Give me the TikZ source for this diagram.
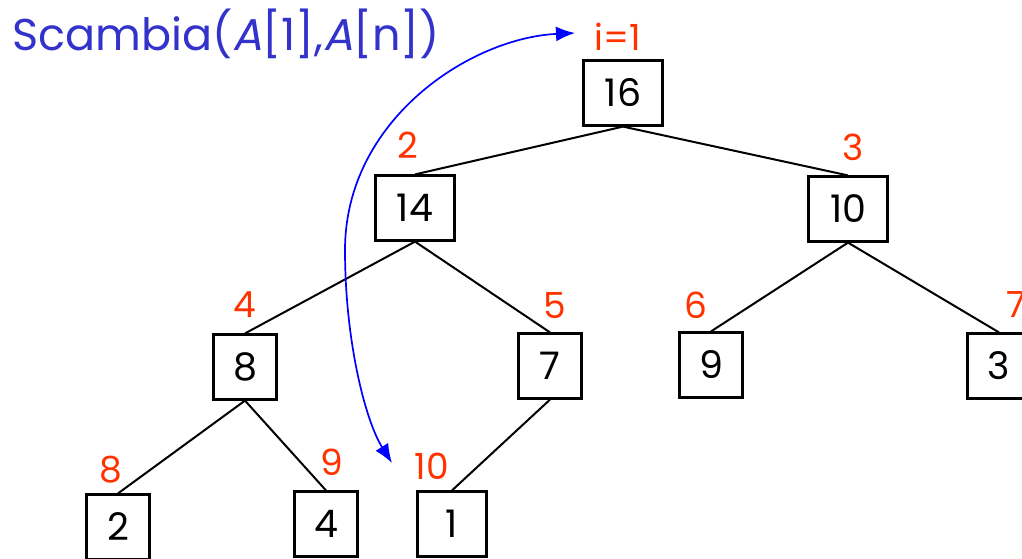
\documentclass[tikz,border=0pt]{standalone}
\usepackage{fontspec}
\setmainfont{Poppins}
\newfontfamily\slantfont[FakeSlant=0.2]{Poppins}
\usetikzlibrary{arrows.meta}
\definecolor{titleblue}{RGB}{51,51,204}
\definecolor{idxred}{RGB}{255,51,0}
\definecolor{arrowblue}{RGB}{0,0,255}
\begin{document}
\begin{tikzpicture}[x=1pt,y=-1pt,
  box/.style={draw, line width=2.2pt, minimum width=63pt, minimum height=65pt, inner sep=0pt,
    font=\fontsize{38}{38}\selectfont},
  wbox/.style={box, minimum width=79pt},
  idx/.style={text=idxred, inner sep=0pt, font=\fontsize{36}{36}\selectfont},
  edge/.style={line width=2pt},
  swap/.style={draw=arrowblue, line width=1.7pt, {Latex[length=19pt,width=15pt]}-{Latex[length=19pt,width=15pt]}}]
\useasboundingbox (0,0) rectangle (1022,558);
% title
\node[anchor=base west, inner sep=0pt, text=titleblue, font=\fontsize{44.5}{44.5}\selectfont] (title) at (12,50)
  {Scambia({\slantfont A}[1],{\slantfont A}[n])};
% boxes
\node[wbox] (n16) at (623,93) {16};
\node[wbox] (n14) at (415,208) {14};
\node[wbox] (n10) at (848,209) {10};
\node[box] (n8) at (245,367) {8};
\node[box] (n7) at (550,366) {7};
\node[box] (n9) at (711,365) {9};
\node[box] (n3) at (999,366) {3};
\node[box] (n2) at (118,527) {2};
\node[box] (n4) at (326,524) {4};
\node[box, minimum width=69pt] (n1) at (452,524) {1};
% edges
\draw[edge] (n16.south) -- (n14.north);
\draw[edge] (n16.south) -- (n10.north);
\draw[edge] (n14.south) -- (n8.north);
\draw[edge] (n14.south) -- (n7.north);
\draw[edge] (n10.south) -- (n9.north);
\draw[edge] (n10.south) -- (n3.north);
\draw[edge] (n8.south) -- (n2.north);
\draw[edge] (n8.south) -- (n4.north);
\draw[edge] (n7.south) -- (n1.north);
% index labels
\node[idx] (i1) at (618,37) {i=1};
\node[idx] (i2) at (408,145) {2};
\node[idx] (i3) at (853,147) {3};
\node[idx] (i4) at (245,305) {4};
\node[idx] (i5) at (555,305) {5};
\node[idx] (i6) at (696,305) {6};
\node[idx] (i7) at (1016,305) {7};
\node[idx] (i8) at (111,470) {8};
\node[idx] (i9) at (332,462) {9};
\node[idx] (i10) at (432,466) {10};
% swap arrow
\coordinate (topend) at (575,33);
\coordinate (mid) at (345,250);
\coordinate (botend) at (392,463);
\draw[swap] (topend) .. controls (470,38) and (345,120) .. (mid)
  .. controls (345,340) and (365,420) .. (botend);
\end{tikzpicture}
\end{document}
